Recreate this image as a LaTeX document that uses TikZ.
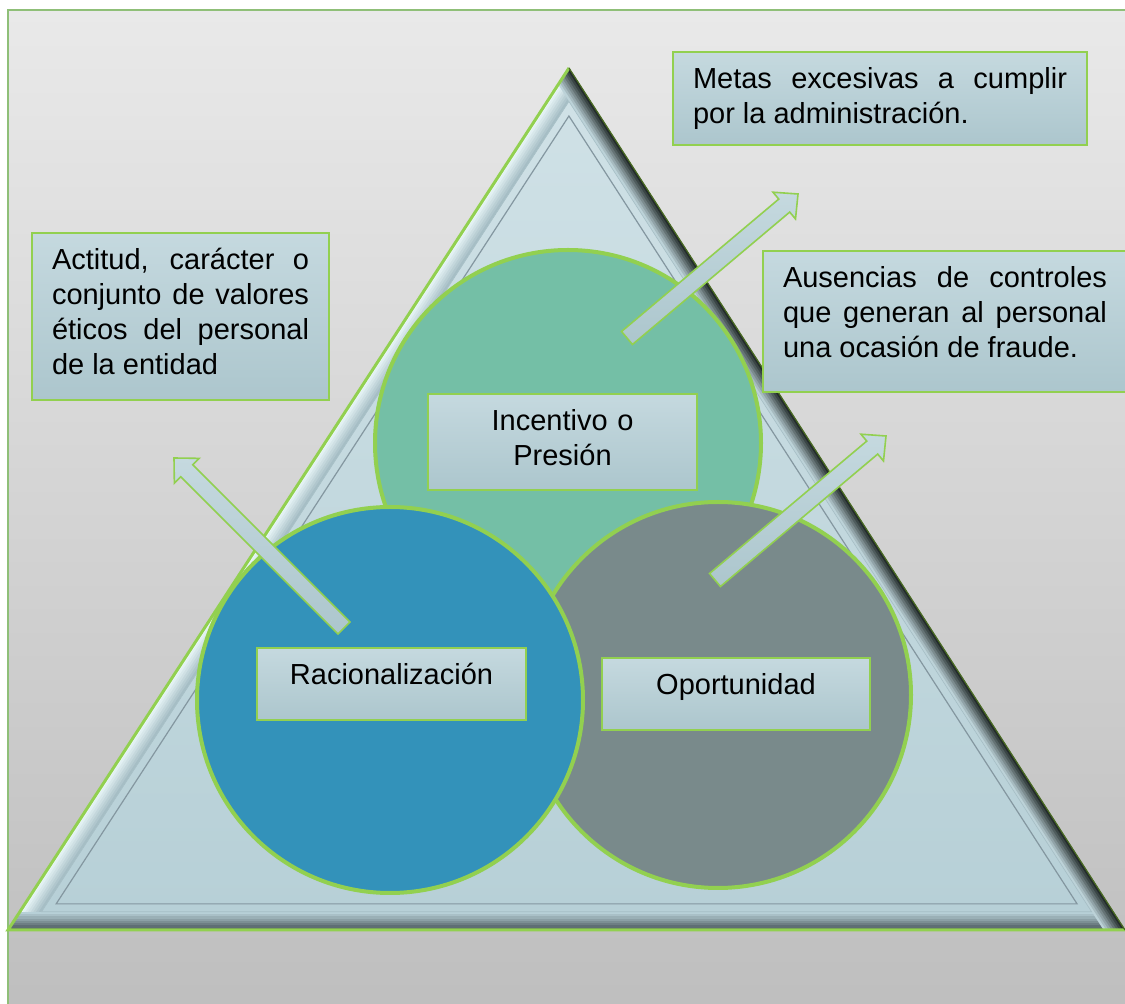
\documentclass[tikz,border=0pt]{standalone}
\usepackage{fontspec}
\setmainfont{Liberation Sans}
\usetikzlibrary{calc}

\definecolor{pagetop}{HTML}{E9E9E9}
\definecolor{pagebot}{HTML}{BEBEBE}
\definecolor{frameline}{HTML}{8FBF78}
\definecolor{limegreen}{HTML}{92D050}
\definecolor{olive}{HTML}{4A6B22}
\definecolor{facetop}{HTML}{CFE1E6}
\definecolor{facebot}{HTML}{B7D0D7}
\definecolor{bevlight}{HTML}{EDF9FB}
\definecolor{bevmid}{HTML}{A6BEC5}
\definecolor{bevinner}{HTML}{BCD2D8}
\definecolor{bevdark}{HTML}{232C2B}
\definecolor{bevshade}{HTML}{505D62}
\definecolor{groove}{HTML}{8497A0}
\definecolor{presion}{HTML}{74BFA6}
\definecolor{racional}{HTML}{3392BA}
\definecolor{oportun}{HTML}{798A8B}
\definecolor{boxtop}{HTML}{C5D9DF}
\definecolor{boxbot}{HTML}{ACC6CD}

% block arrow from a tail coordinate to a tip coordinate
\newcommand\blockarrow[2]{%
  \coordinate (#1-hb) at ($(#2)!9pt!(#1)$);
  \filldraw[arrowbody] ($(#1)!4.25pt!90:(#2)$) -- ($(#1-hb)!4.25pt!90:(#2)$)
    -- ($(#1-hb)!8.75pt!90:(#2)$) -- (#2) -- ($(#1-hb)!8.75pt!-90:(#2)$)
    -- ($(#1-hb)!4.25pt!-90:(#2)$) -- ($(#1)!4.25pt!-90:(#2)$) -- cycle;}

\begin{document}
\begin{tikzpicture}[x=0.5pt,y=-0.5pt,
  ring/.style={circle,draw=limegreen,line width=2pt,minimum size=193pt,inner sep=0pt},
  card/.style={draw=limegreen,line width=1pt,top color=boxtop,bottom color=boxbot,
    inner xsep=10pt,inner ysep=0pt,text height=18.5pt,
    font=\fontsize{14.5}{17.5}\selectfont,
    execute at begin node={\tolerance=10000\relax\hyphenpenalty=10000\relax}},
  arrowbody/.style={draw=limegreen,line width=0.8pt,top color=boxtop,bottom color=boxbot}]
\useasboundingbox (0,0) rectangle (1125,1004);

% page
\shade[top color=pagetop,bottom color=pagebot] (8,10) rectangle (1140,1020);
\draw[frameline,line width=1pt] (8,1020) -- (8,10) -- (1140,10);

% bevelled triangle
\coordinate (apex) at (569,68);
\coordinate (bl) at (8,930);
\coordinate (br) at (1125,930);
\coordinate (inc) at (567.9,626.4);
\fill[facebot] (apex) -- (bl) -- (br) -- cycle;
\begin{scope}
  \clip (apex) -- (bl) -- (br) -- cycle;
  \foreach \i in {8,...,1}{
    \pgfmathtruncatemacro\p{100*(8-\i)/7}
    \draw[line width=2.25pt*\i, bevlight!\p!bevmid] (apex) -- (bl);
  }
  \foreach \i in {8,...,1}{
    \pgfmathtruncatemacro\p{100*(8-\i)/7}
    \draw[line width=2.25pt*\i, bevshade!\p!facebot] (bl) -- (br);
  }
  \foreach \i in {8,...,1}{
    \pgfmathtruncatemacro\p{100*(8-\i)/7}
    \draw[line width=2.25pt*\i, bevdark!\p!bevinner] (apex) -- (br);
  }
\end{scope}
\shade[top color=facetop,bottom color=facebot,draw=bevmid,line width=0.3pt]
  ($(inc)!0.94!(apex)$) -- ($(inc)!0.94!(bl)$) -- ($(inc)!0.94!(br)$) -- cycle;
\draw[groove,line width=0.6pt]
  ($(inc)!0.914!(apex)$) -- ($(inc)!0.914!(bl)$) -- ($(inc)!0.914!(br)$) -- cycle;
\draw[limegreen,line width=1.5pt] (br) -- (bl) -- (apex);
\draw[olive,line width=0.6pt] (apex) -- (br);

% three circles
\node[ring,fill=presion] (cPresion) at (568,443) {};
\node[ring,fill=oportun] (cOportunidad) at (718,695) {};
\node[ring,fill=racional] (cRacional) at (390,700) {};

\node[card,text width=114.5pt,text depth=29.5pt,align=center] (bPresion) at (562.5,442) {Incentivo o\\Presión};
\node[card,text width=114.5pt,text depth=17.5pt,align=center] (bRacional) at (391.5,684) {Racionalización};
\node[card,text width=114pt,text depth=17.5pt,align=center] (bOportunidad) at (736,694) {Oportunidad};

% notes
\node[card,text width=187pt,text depth=28pt,align=justify] (tMetas) at (880,98.5)
  {Metas excesivas a cumplir\linebreak por la administración.};
\node[card,text width=128.5pt,text depth=65pt,align=justify] (tActitud) at (180.5,316.5)
  {Actitud, carácter o\linebreak conjunto de valores\linebreak éticos del personal\linebreak de la entidad};
\node[card,text width=162pt,text depth=52pt,align=justify] (tAusencias) at (945,321.5)
  {Ausencias de controles\linebreak que generan al personal\linebreak una ocasión de fraude.};

% arrows
\coordinate (metasTail) at (627,338);
\coordinate (metasTip) at (798,194);
\coordinate (ausTail) at (715,580);
\coordinate (ausTip) at (886,436);
\coordinate (actTail) at (344,628);
\coordinate (actTip) at (174,458);
\blockarrow{metasTail}{metasTip}
\blockarrow{ausTail}{ausTip}
\blockarrow{actTail}{actTip}
\end{tikzpicture}
\end{document}
